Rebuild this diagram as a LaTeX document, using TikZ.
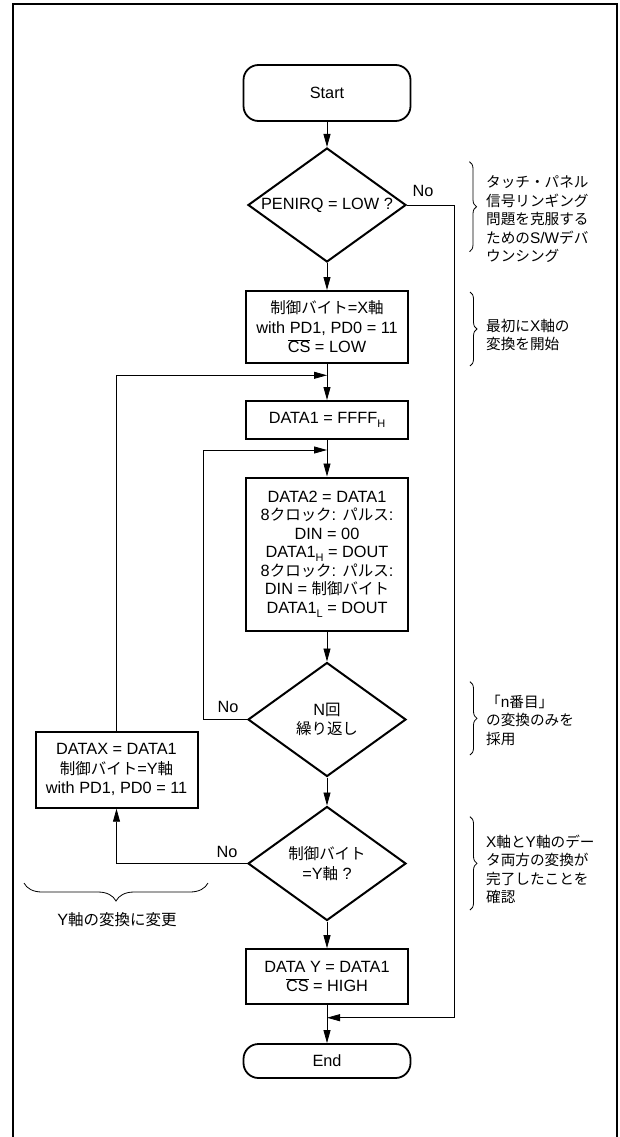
\documentclass[tikz,border=0pt]{standalone}
\usepackage{fontspec}
\setmainfont{Liberation Sans}
\newfontfamily\jpfont[Scale=0.95]{Noto Sans CJK JP}
\newcommand\jp[1]{{\jpfont #1}}
\newcommand\ovl[1]{$\overline{\hbox{#1}}$}
\newcommand\lowsub[1]{\raisebox{-0.45ex}{\fontsize{11}{11}\selectfont #1}}
\usetikzlibrary{shapes.geometric,arrows.meta,decorations.pathreplacing,positioning}

\tikzset{
  term/.style={draw, line width=1.8pt, rectangle, rounded corners=15pt, minimum width=167pt},
  proc/.style={draw, line width=2pt, rectangle, minimum width=162pt, align=center, inner sep=0pt},
  decide/.style={draw, line width=2pt, diamond, aspect=1.39, inner sep=0pt,
    minimum width=158pt, minimum height=114pt, align=center},
  note/.style={align=left, inner sep=0pt, anchor=north west, font=\fontsize{15.4}{18.5}\selectfont},
  flow/.style={line width=0.8pt, -{Triangle[length=13pt,width=7pt]}},
  curly/.style={line width=0.8pt, decorate, decoration={brace, amplitude=7pt}},
}

\begin{document}
\begin{tikzpicture}[x=1pt, y=-1pt, font=\fontsize{16.3}{19.5}\selectfont]
\useasboundingbox (0,0) rectangle (619,1137);
\draw[line width=2pt] (13,1137) -- (13,4) -- (617,4) -- (617,1137);

% main column
\node(start)[term, minimum height=56pt] at (327,93) {Start};
\node(penirq)[decide] at (327,205) {PENIRQ = LOW ?};
\node(setx)[proc, minimum height=72pt] at (327,327)
  {\jp{制御バイト}=X\jp{軸}\\with PD1, PD0 = 11\\\ovl{CS} = LOW};
\node(init)[proc, minimum height=38pt] at (327,420) {DATA1 = FFFF\lowsub{H}};
\node(read)[proc, minimum height=153pt, font=\fontsize{16.3}{18.5}\selectfont] at (327,554)
  {DATA2 = DATA1\\8\jp{クロック}: \jp{パルス}:\\DIN = 00\\DATA1\lowsub{H} = DOUT\\
   8\jp{クロック}: \jp{パルス}:\\DIN = \jp{制御バイト}\\DATA1\lowsub{L} = DOUT};
\node(count)[decide] at (327,719.5) {N\jp{回}\\\jp{繰り返し}};
\node(axis)[decide] at (327,863.5) {\jp{制御バイト}\\=Y\jp{軸} ?};
\node(datay)[proc, minimum height=55pt] at (327,976.7) {DATA Y = DATA1\\\ovl{CS} = HIGH};
\node(end)[term, minimum height=34pt] at (327,1061) {End};

% side box
\node(datax)[proc, minimum height=76pt] at (116.5,769.7)
  {DATAX = DATA1\\\jp{制御バイト}=Y\jp{軸}\\with PD1, PD0 = 11};

% labels
\node(no1) at (423,191) {No};
\node(no2) at (228,706.7) {No};
\node(no3) at (227,851.7) {No};

% join points
\coordinate(outerin) at (327,375.3);
\coordinate(innerin) at (327,450);
\coordinate(innerturn) at (203.3,450);
\coordinate(skipturn) at (454,1017.7);
\coordinate(skipin) at (327,1017.7);

\draw[flow] (start.south) -- (penirq.north);
\draw[flow] (penirq.south) -- (setx.north);
\draw[flow] (setx.south) -- (init.north);
\draw[flow] (init.south) -- (read.north);
\draw[flow] (read.south) -- (count.north);
\draw[flow] (count.south) -- (axis.north);
\draw[flow] (axis.south) -- (datay.north);
\draw[flow] (datay.south) -- (end.north);

\draw[flow] (penirq.east) -| (skipturn) -- (skipin);
\draw[flow] (count.west) -| (innerturn) -- (innerin);
\draw[flow] (axis.west) -| (datax.south);
\draw[flow] (datax.north) |- (outerin);

% notes
\draw[curly] (469.5,161.7) -- (469.5,251.7);
\node(note1)[note] at (486,175.4)
  {\jp{タッチ・パネル}\\\jp{信号リンギング}\\\jp{問題を克服する}\\\jp{ための}S/W\jp{デバ}\\\jp{ウンシング}};
\draw[curly] (470,292) -- (470,366);
\node(note2)[note] at (486,318.7) {\jp{最初に}X\jp{軸の}\\\jp{変換を開始}};
\draw[curly] (470,681.7) -- (470,755);
\node(note3)[note] at (486,694.7) {\jp{「}n\jp{番目」}\\\jp{の変換のみを}\\\jp{採用}};
\draw[curly] (470,816.7) -- (470,910);
\node(note4)[note] at (486,834.4)
  {X\jp{軸と}Y\jp{軸のデー}\\\jp{タ両方の変換が}\\\jp{完了したことを}\\\jp{確認}};
\draw[curly, decoration={brace, amplitude=18pt}] (208,883) -- (24,883);
\node(note5)[font=\fontsize{16.3}{18.5}\selectfont] at (117,920) {Y\jp{軸の変換に変更}};
\end{tikzpicture}
\end{document}
